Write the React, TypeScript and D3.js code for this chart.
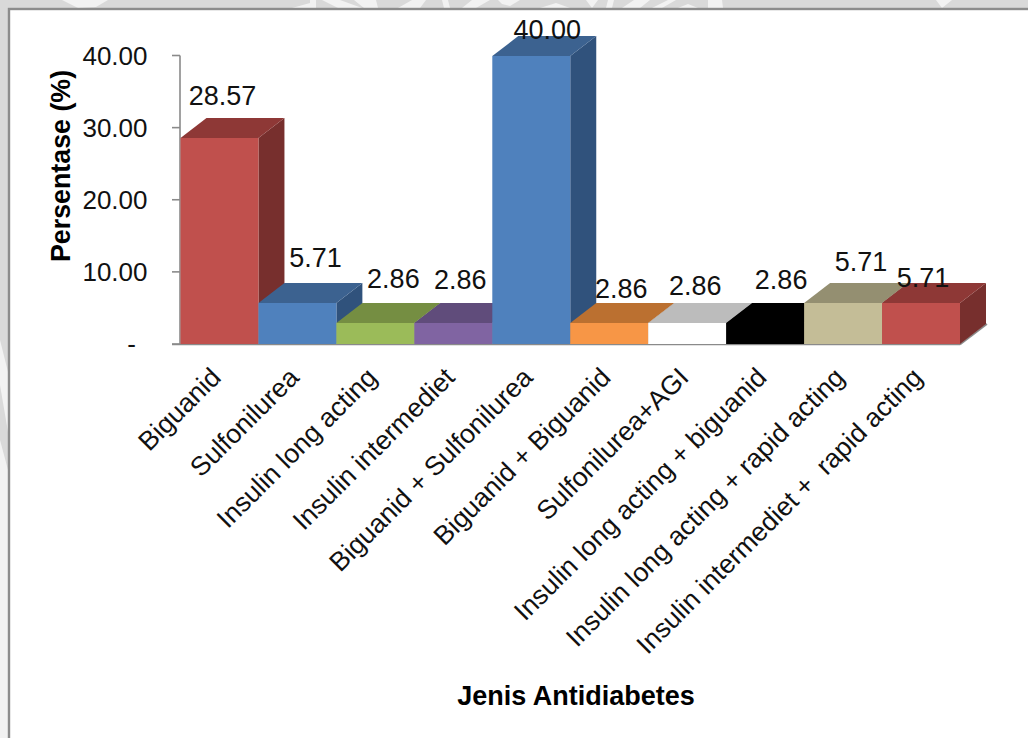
import React from "react";
import * as d3 from "d3";

// Share of each antidiabetic regimen, in percent
const categories = [
  "Biguanid",
  "Sulfonilurea",
  "Insulin long acting",
  "Insulin intermediet",
  "Biguanid + Sulfonilurea",
  "Biguanid + Biguanid",
  "Sulfonilurea+AGI",
  "Insulin long acting + biguanid",
  "Insulin long acting + rapid acting",
  "Insulin intermediet +  rapid acting",
];
const percentages = [28.57, 5.71, 2.86, 2.86, 40.0, 2.86, 2.86, 2.86, 5.71, 5.71];
const yTicks = [0, 10, 20, 30, 40];

// Front, top and side shade of each box
const frontColors = ["#c0504d", "#4f81bd", "#9bbb59", "#8064a2", "#4f81bd", "#f79646", "#ffffff", "#000000", "#c4bd97", "#c0504d"];
const topColors = ["#8e3836", "#3c6290", "#758e42", "#604c7b", "#3c6290", "#bb7030", "#bcbcbc", "#000000", "#948f71", "#8e3836"];
const sideColors = ["#772f2d", "#30527c", "#627737", "#504066", "#30527c", "#9c5d28", "#9d9d9d", "#000000", "#7c775e", "#772f2d"];

// Hand-placed data labels, as offsets from the top of each box's front face
const labelNudgeX = [3, 18, 18, 7, 16, 12, 8, 16, 18, 2];
const labelNudgeY = [-33, -36, -35, -34, -17, -25, -28, -34, -32, -16];

const WIDTH = 1028;
const HEIGHT = 738;
const DEPTH_X = 26;
const DEPTH_Y = -20;
const FONT = "'Liberation Sans', Arial, sans-serif";

const x = d3.scaleBand<string>().domain(categories).range([180.5, 960]).padding(0);
const y = d3.scaleLinear().domain([0, 40]).range([344, 55.5]);

const polygon = (points: [number, number][]) => d3.line()(points) + "Z";

// Bits of the pale emblem showing through the frame around the chart
const emblemTop: [number, number][][] = [
  [[62, 0], [108, 0], [96, 7], [78, 8]],
  [[292, 8], [310, 3], [310, 0], [316, 0], [316, 8]],
  [[322, 0], [340, 0], [362, 8], [338, 8]],
  [[354, 0], [376, 0], [378, 8], [364, 8]],
  [[398, 8], [412, 0], [426, 0], [420, 8]],
  [[442, 0], [448, 0], [450, 8], [444, 8]],
  [[462, 8], [472, 0], [490, 0], [476, 8]],
  [[498, 0], [520, 0], [510, 6], [502, 4]],
  [[540, 8], [556, 3], [570, 8]],
  [[586, 0], [598, 0], [592, 8]],
  [[606, 8], [612, 8], [614, 0], [608, 0]],
  [[622, 8], [640, 8], [650, 0], [634, 0]],
  [[652, 8], [668, 0], [676, 0], [662, 8]],
  [[678, 8], [688, 4], [698, 8]],
  [[708, 0], [722, 0], [723, 8], [708, 8]],
  [[936, 0], [952, 0], [942, 8]],
];
const emblemLeft: [number, number][][] = [
  [[0, 340], [8, 372], [8, 432], [0, 385]],
  [[0, 440], [8, 470], [8, 738], [0, 738]],
];

export default function App() {
  const baseY = y(0);
  const barWidth = x.bandwidth();
  const lastRight = x.range()[1];

  return (
    <svg
      width={WIDTH}
      height={HEIGHT}
      viewBox={`0 0 ${WIDTH} ${HEIGHT}`}
      style={{ position: "absolute", left: 0, top: 0, display: "block" }}
      fontFamily={FONT}
    >
      {/* Frame and chart panel */}
      <rect width={WIDTH} height={HEIGHT} fill="#d9d9d9" />
      {[...emblemTop, ...emblemLeft].map((pts, i) => (
        <path key={i} d={polygon(pts)} fill="#f2f2f2" />
      ))}
      <rect x={9} y={9} width={WIDTH} height={HEIGHT} fill="#ffffff" stroke="#8c8c8c" strokeWidth={2.4} />

      {/* Value axis and floor */}
      <g stroke="#8a8a8a" strokeWidth={1.6} fill="none">
        <line x1={180} x2={180} y1={y(40)} y2={baseY} />
        {yTicks.map((t) => (
          <line key={t} x1={172} x2={180} y1={y(t)} y2={y(t)} />
        ))}
        <line x1={172} x2={lastRight} y1={baseY + 0.5} y2={baseY + 0.5} />
        <line x1={lastRight} x2={lastRight + DEPTH_X + 1} y1={baseY + 0.5} y2={baseY + DEPTH_Y} />
      </g>

      {/* Boxes, painted left to right so each top overlaps its neighbour's side */}
      {categories.map((c, i) => {
        const left = x(c) as number;
        const right = left + barWidth;
        // Snapped to a whole pixel so the top and front faces meet without a seam
        const top = Math.round(y(percentages[i]));
        return (
          <g key={c}>
            <path
              d={polygon([[right, top], [right + DEPTH_X, top + DEPTH_Y], [right + DEPTH_X, baseY + DEPTH_Y], [right, baseY]])}
              fill={sideColors[i]}
            />
            <path
              d={polygon([[left, top], [left + DEPTH_X, top + DEPTH_Y], [right + DEPTH_X, top + DEPTH_Y], [right, top]])}
              fill={topColors[i]}
            />
            <rect x={left} y={top} width={barWidth} height={baseY - top} fill={frontColors[i]} />
          </g>
        );
      })}

      {/* Value axis labels */}
      <g fontSize={26} fill="#111111" textAnchor="end">
        {yTicks.map((t) => (
          <text key={t} x={t === 0 ? 136 : 147.5} y={y(t) + 9}>
            {t === 0 ? "-" : d3.format(".2f")(t)}
          </text>
        ))}
      </g>

      {/* Data labels */}
      <g fontSize={27} fill="#111111" textAnchor="middle">
        {percentages.map((v, i) => {
          const c = categories[i];
          const cx = (x(c) as number) + barWidth / 2;
          return (
            <text key={c} x={cx + labelNudgeX[i]} y={y(v) + labelNudgeY[i]}>
              {d3.format(".2f")(v)}
            </text>
          );
        })}
      </g>

      {/* Slanted category labels */}
      <g fontSize={26.6} fill="#111111" textAnchor="end">
        {categories.map((c) => {
          const cx = (x(c) as number) + barWidth / 2;
          return (
            <text key={c} transform={`translate(${cx + 3},${379}) rotate(-45)`} xmlSpace="preserve" style={{ whiteSpace: "pre" }}>
              {c}
            </text>
          );
        })}
      </g>

      {/* Axis titles */}
      <text
        transform="translate(69.5,166) rotate(-90)"
        textAnchor="middle"
        fontSize={26.8}
        fontWeight="bold"
        fill="#000000"
      >
        Persentase (%)
      </text>
      <text x={576} y={705} textAnchor="middle" fontSize={27} fontWeight="bold" fill="#000000">
        Jenis Antidiabetes
      </text>
    </svg>
  );
}
